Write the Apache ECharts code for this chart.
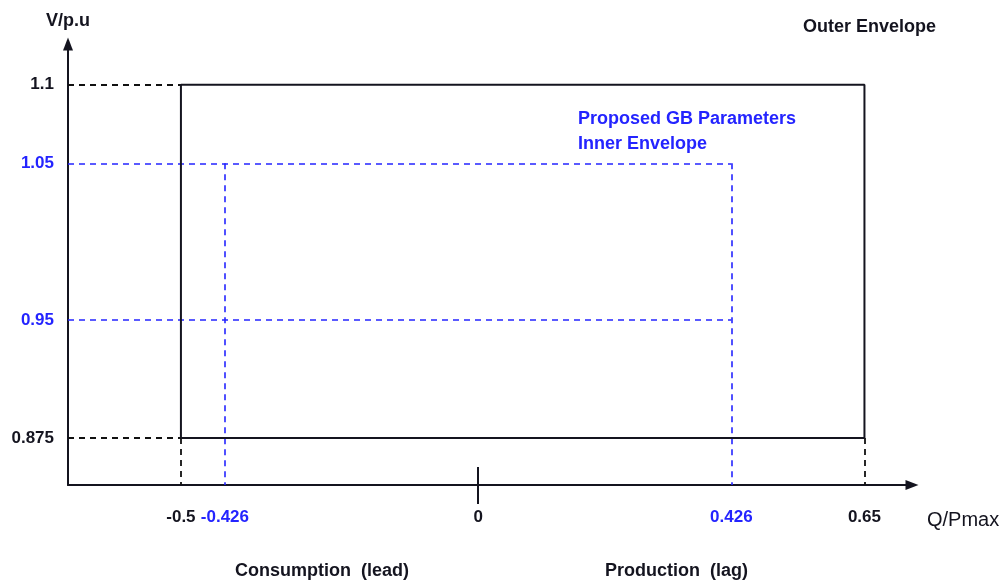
<!DOCTYPE html>
<html>
<head>
<meta charset="utf-8">
<script src="https://cdn.jsdelivr.net/npm/echarts@6/dist/echarts.min.js"></script>
<style>
  html, body { margin: 0; padding: 0; background: #fff; }
  #main { width: 1005px; height: 585px; }
</style>
</head>
<body>
<div id="main"></div>
<script>
var black = '#14141f';
var blue = '#2424ff';
var font = "'Liberation Sans', Arial, sans-serif";

// tick labels
var xTicks = [-0.5, -0.426, 0, 0.426, 0.65];
var yTicks = [0.875, 0.95, 1.05, 1.1];
// outer envelope (Q/Pmax, V/p.u)
var outerQ = [-0.5, 0.65];
var outerV = [0.875, 1.1];
// proposed GB inner envelope
var innerQ = [-0.426, 0.426];
var innerV = [0.95, 1.05];

var xMin = -0.69, xMax = 0.73;
var yMin = 0.845, yMax = 1.126;

function isInner(v, list) {
    v = parseFloat(v);
    for (var i = 0; i < list.length; i++) {
        if (Math.abs(list[i] - v) < 1e-9) return true;
    }
    return false;
}

var outerBox = [
    [outerQ[0], outerV[0]], [outerQ[0], outerV[1]],
    [outerQ[1], outerV[1]], [outerQ[1], outerV[0]],
    [outerQ[0], outerV[0]]
];

var outerGuides = [
    {coords: [[xMin, outerV[1]], [outerQ[0], outerV[1]]]},
    {coords: [[xMin, outerV[0]], [outerQ[0], outerV[0]]]},
    {coords: [[outerQ[0], outerV[0]], [outerQ[0], yMin]]},
    {coords: [[outerQ[1], outerV[0]], [outerQ[1], yMin]]}
];

var innerGuides = [
    {coords: [[xMin, innerV[1]], [innerQ[1], innerV[1]]]},
    {coords: [[xMin, innerV[0]], [innerQ[1], innerV[0]]]},
    {coords: [[innerQ[0], innerV[1]], [innerQ[0], yMin]]},
    {coords: [[innerQ[1], innerV[1]], [innerQ[1], yMin]]}
];

var myChart = echarts.init(document.getElementById('main'));
var option = {
    animation: false,
    textStyle: {fontFamily: font},
    grid: {left: 68, right: 93, top: 44, bottom: 100},
    xAxis: [
        {
            type: 'value',
            min: xMin,
            max: xMax,
            position: 'bottom',
            splitLine: {show: false},
            axisLine: {
                onZero: false,
                symbol: ['none', 'triangle'],
                symbolSize: [10, 13],
                lineStyle: {color: black, width: 2}
            },
            axisTick: {show: true, customValues: [0], length: 19, lineStyle: {color: black, width: 2}},
            axisLabel: {
                customValues: xTicks,
                margin: 24,
                fontSize: 17,
                fontWeight: 'bold',
                fontFamily: font,
                formatter: function (v) { return String(v); },
                color: function (v) { return isInner(v, innerQ) ? blue : black; }
            }
        },
        {
            // upper half of the tick at 0
            type: 'value',
            min: xMin,
            max: xMax,
            position: 'bottom',
            axisLine: {show: false, onZero: false},
            splitLine: {show: false},
            axisLabel: {show: false},
            axisTick: {show: true, inside: true, customValues: [0], length: 18, lineStyle: {color: black, width: 2}}
        }
    ],
    yAxis: {
        type: 'value',
        min: yMin,
        max: yMax,
        name: 'V/p.u',
        nameLocation: 'end',
        nameGap: 14,
        nameTextStyle: {color: black, fontSize: 18, fontWeight: 'bold', fontFamily: font, align: 'center'},
        splitLine: {show: false},
        axisLine: {
            onZero: false,
            symbol: ['none', 'triangle'],
            symbolSize: [10, 13],
            lineStyle: {color: black, width: 2}
        },
        axisTick: {show: false},
        axisLabel: {
            customValues: yTicks,
            margin: 14,
            fontSize: 17,
            fontWeight: 'bold',
            fontFamily: font,
            formatter: function (v) { return String(v); },
            color: function (v) { return isInner(v, innerV) ? blue : black; }
        }
    },
    series: [
        {
            type: 'lines',
            coordinateSystem: 'cartesian2d',
            polyline: false,
            silent: true,
            lineStyle: {color: blue, width: 1.6, type: [6, 5], opacity: 1},
            data: innerGuides
        },
        {
            type: 'lines',
            coordinateSystem: 'cartesian2d',
            polyline: false,
            silent: true,
            lineStyle: {color: '#111', width: 1.8, type: [6, 5], opacity: 1},
            data: outerGuides
        },
        {
            type: 'line',
            symbol: 'none',
            silent: true,
            lineStyle: {color: black, width: 2},
            data: outerBox
        }
    ],
    graphic: [
        {
            type: 'text', left: 927, top: 510,
            style: {text: 'Q/Pmax', fill: black, font: '20px ' + font}
        },
        {
            type: 'text', left: 803, top: 18,
            style: {text: 'Outer Envelope', fill: black, font: 'bold 18px ' + font}
        },
        {
            type: 'text', left: 578, top: 107,
            style: {text: 'Proposed GB Parameters\nInner Envelope', fill: blue, font: 'bold 18px ' + font, lineHeight: 25}
        },
        {
            type: 'text', left: 235, top: 562,
            style: {text: 'Consumption  (lead)', fill: black, font: 'bold 18px ' + font}
        },
        {
            type: 'text', left: 605, top: 562,
            style: {text: 'Production  (lag)', fill: black, font: 'bold 18px ' + font}
        }
    ]
};
myChart.setOption(option, true);
</script>
</body>
</html>
